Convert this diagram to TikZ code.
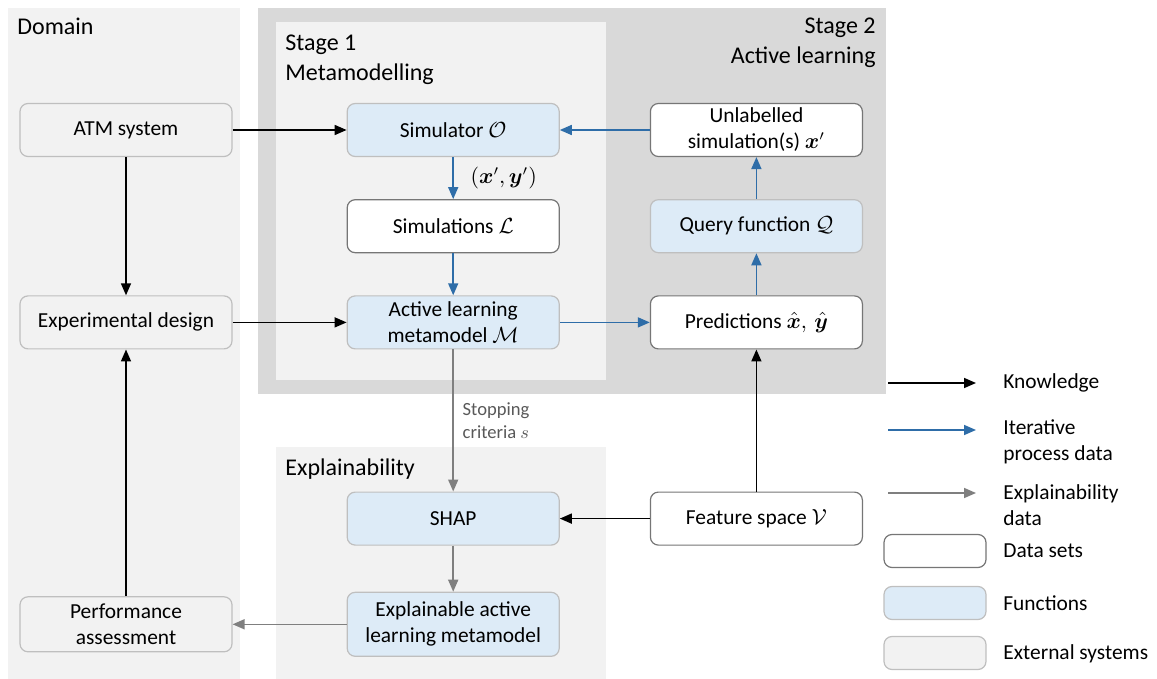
\documentclass[tikz,border=0pt]{standalone}
\usepackage{fontspec}
\setmainfont{Carlito}
\usepackage{amsmath,bm}
\usetikzlibrary{arrows.meta,positioning}
\definecolor{PanLight}{HTML}{F2F2F2}
\definecolor{PanDark}{HTML}{D9D9D9}
\definecolor{FnBlue}{HTML}{DDEBF7}
\definecolor{EdgeLight}{HTML}{BFBFBF}
\definecolor{EdgeDark}{HTML}{767676}
\definecolor{ArrBlue}{HTML}{2E6DA8}
\definecolor{ArrGray}{HTML}{7F7F7F}
\definecolor{TxtGray}{HTML}{595959}

\begin{document}
\begin{tikzpicture}[x=0.5pt,y=-0.5pt,
  font=\fontsize{10.7}{13}\selectfont,
  ds/.style={draw=EdgeDark,fill=white,rounded corners=4pt,minimum width=106pt,minimum height=26.5pt,inner ysep=1pt,align=center,line width=0.6pt},
  fn/.style={ds,draw=EdgeLight,fill=FnBlue},
  ex/.style={ds,draw=EdgeLight,fill=PanLight},
  kn/.style={-{Triangle[length=6pt,width=5pt]},line width=0.8pt,draw=black},
  it/.style={kn,draw=ArrBlue},
  xp/.style={kn,draw=ArrGray},
  ttl/.style={font=\fontsize{12}{15}\selectfont,inner sep=0pt},
  lg/.style={anchor=west,inner sep=0pt,align=left}]
\useasboundingbox (0,0) rectangle (1157,679);
% panels
\fill[PanLight] (8,8) rectangle (240,679);
\fill[PanDark] (258,8) rectangle (886,394);
\fill[PanLight] (276,22) rectangle (606,380);
\fill[PanLight] (276,447) rectangle (606,679);
\node[ttl,anchor=north west] (dom) at (17,18) {Domain};
\node[ttl,anchor=north west,align=left] (st1) at (285,35) {Stage 1\\Metamodelling};
\node[ttl,anchor=north east,align=right] (st2) at (876,18) {Stage 2\\Active learning};
\node[ttl,anchor=north west] (xpl) at (285,458) {Explainability};
% boxes
\node[ex] (atm) at (126,130) {ATM system};
\node[fn,right=57pt of atm] (sim) {Simulator $\mathcal{O}$};
\node[ds,right=45pt of sim] (unl) {Unlabelled\\simulation(s) $\bm{x}'$};
\node[ds,below=21pt of sim] (lab) {Simulations $\mathcal{L}$};
\node[fn,below=21pt of lab] (alm) {Active learning\\metamodel $\mathcal{M}$};
\node[fn,below=21pt of unl] (qry) {Query function $\mathcal{Q}$};
\node[ds,below=21pt of qry] (pred) {Predictions $\hat{\bm{x}},\,\hat{\bm{y}}$};
\node[ex,left=57pt of alm] (exd) {Experimental design};
\node[fn,below=71pt of alm] (shap) {SHAP};
\node[ds,right=45pt of shap] (feat) {Feature space $\mathcal{V}$};
\node[fn,below=23pt of shap,minimum height=32pt] (xalm) {Explainable active\\learning metamodel};
\node[ex,left=57pt of xalm,minimum height=27.5pt] (perf) {Performance\\assessment};
% connectors
\draw[kn] (atm) -- (sim);
\draw[kn] (atm) -- (exd);
\draw[kn] (exd) -- (alm);
\draw[kn] (perf) -- (exd);
\draw[kn] (feat) -- (pred);
\draw[kn] (feat) -- (shap);
\draw[it] (sim) -- node[right=5pt] {$(\bm{x}',\bm{y}')$} (lab);
\draw[it] (lab) -- (alm);
\draw[it] (alm) -- (pred);
\draw[it] (pred) -- (qry);
\draw[it] (qry) -- (unl);
\draw[it] (unl) -- (sim);
\draw[xp] (alm) -- node[right=1pt,align=left,text=TxtGray,font=\fontsize{9.3}{11.5}\selectfont] {Stopping\\criteria $s$} (shap);
\draw[xp] (shap) -- (xalm);
\draw[xp] (xalm) -- (perf);
% legend
\coordinate (k1) at (888,383); \coordinate (k2) at (976,383);
\coordinate (i1) at (888,430); \coordinate (i2) at (976,430);
\coordinate (e1) at (888,493); \coordinate (e2) at (976,493);
\draw[kn] (k1) -- (k2);
\draw[it] (i1) -- (i2);
\draw[xp] (e1) -- (e2);
\node[lg] (kl) at (1003,383) {Knowledge};
\node[lg] (il) at (1003,442) {Iterative\\process data};
\node[lg] (el) at (1003,505) {Explainability\\data};
\node[ds,minimum width=51pt,minimum height=16.5pt] (lds) at (935,551) {};
\node[fn,minimum width=51pt,minimum height=16.5pt] (lfn) at (935,603) {};
\node[ex,minimum width=51pt,minimum height=16.5pt] (lex) at (935,653) {};
\node[lg] (dsl) at (1003,551) {Data sets};
\node[lg] (fnl) at (1003,603) {Functions};
\node[lg] (exl) at (1003,654) {External systems};
\end{tikzpicture}
\end{document}
